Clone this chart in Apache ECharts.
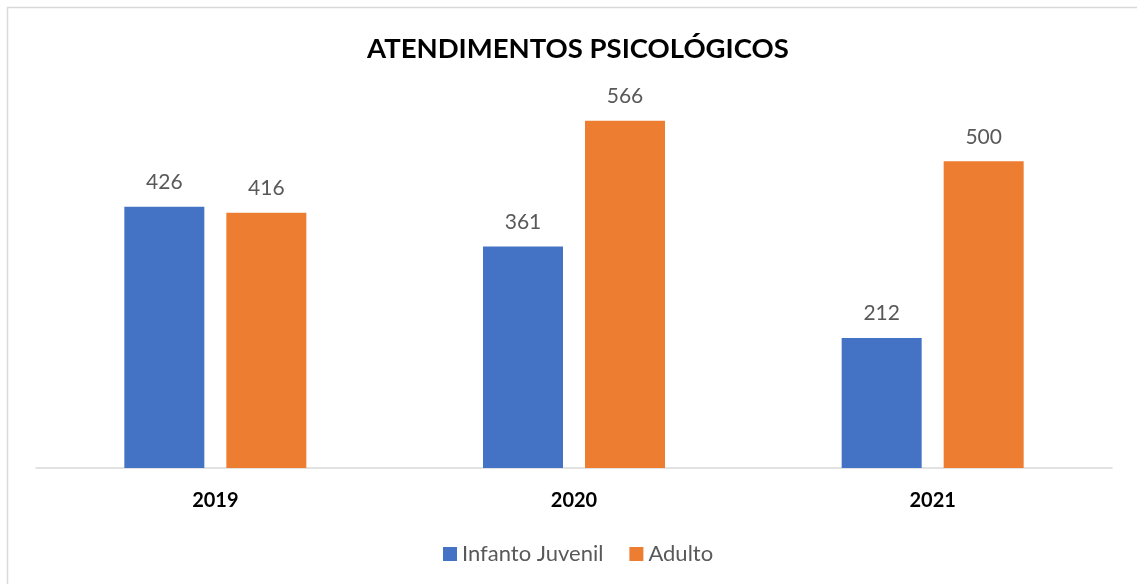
<!DOCTYPE html>
<html>
<head>
<meta charset="utf-8">
<script src="https://cdn.jsdelivr.net/npm/echarts@6/dist/echarts.min.js"></script>
<style>
  html, body { margin: 0; padding: 0; background: #fff; }
  #chart { width: 1137px; height: 584px; }
</style>
</head>
<body>
<div id="chart"></div>
<script>
const anos = ['2019', '2020', '2021'];
const infantoJuvenil = [426, 361, 212];
const adulto = [416, 566, 500];

const chart = echarts.init(document.getElementById('chart'));

const labelStyle = {
  show: true,
  position: 'top',
  distance: 14,
  color: '#595959',
  fontFamily: 'Lato',
  fontSize: 21
};

const option = {
  backgroundColor: '#fff',
  animation: false,
  title: {
    text: 'ATENDIMENTOS PSICOLÓGICOS',
    left: 362,
    top: 30,
    textStyle: {
      fontFamily: 'Lato',
      fontWeight: 'bold',
      fontSize: 27.5,
      color: '#000'
    }
  },
  graphic: [{
    type: 'rect',
    shape: { x: 7.5, y: 7.5, width: 1200, height: 700 },
    style: { fill: 'none', stroke: '#d9d9d9', lineWidth: 1.5 },
    silent: true
  }],
  legend: {
    bottom: 14,
    left: 438,
    itemWidth: 14,
    itemHeight: 14,
    itemGap: 26,
    icon: 'rect',
    textStyle: { fontFamily: 'Lato', fontSize: 22, color: '#595959' },
    data: ['Infanto Juvenil', 'Adulto']
  },
  grid: { left: 36, right: 25, top: 100, bottom: 116 },
  xAxis: {
    type: 'category',
    data: anos,
    axisLine: { lineStyle: { color: '#d9d9d9', width: 1.5 } },
    axisTick: { show: false },
    axisLabel: {
      margin: 23,
      color: '#000',
      fontFamily: 'Lato',
      fontWeight: 'bold',
      fontSize: 20
    }
  },
  yAxis: {
    type: 'value',
    min: 0,
    max: 600,
    show: false,
    splitLine: { show: false }
  },
  series: [
    {
      name: 'Infanto Juvenil',
      type: 'bar',
      data: infantoJuvenil,
      barWidth: 80,
      barGap: '27.5%',
      itemStyle: { color: '#4472C4' },
      label: labelStyle
    },
    {
      name: 'Adulto',
      type: 'bar',
      data: adulto,
      barWidth: 80,
      itemStyle: { color: '#ED7D31' },
      label: labelStyle
    }
  ]
};

chart.setOption(option);
</script>
</body>
</html>
